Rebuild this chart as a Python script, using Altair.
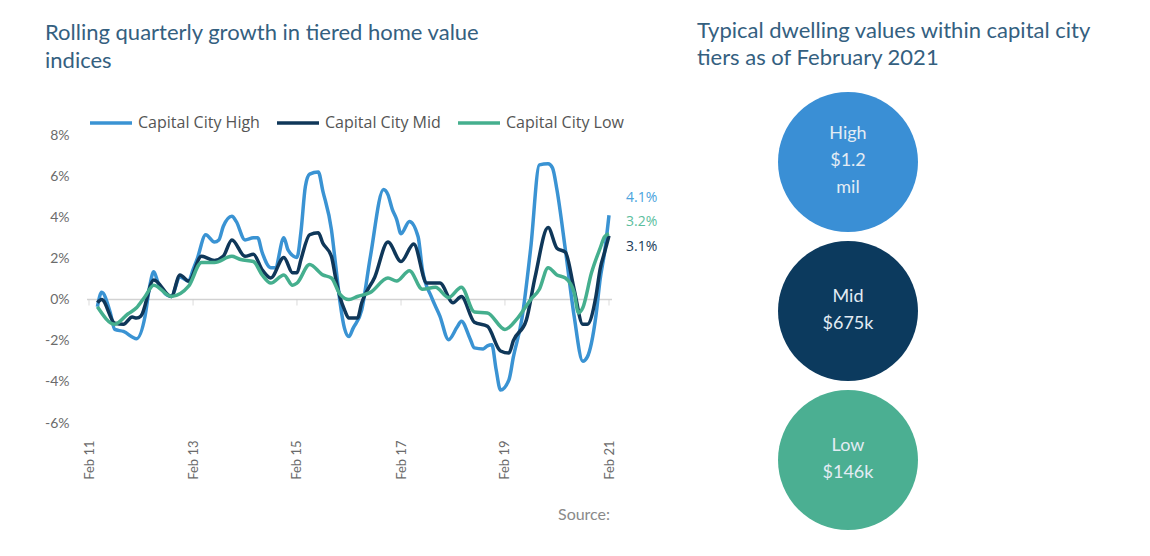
import altair as alt
import pandas as pd

# ---------------- data ----------------
high_dates = ["2011-04", "2011-05", "2011-07", "2011-08", "2011-10", "2012-01", "2012-03", "2012-04",
              "2012-05", "2012-06", "2012-09", "2012-11", "2013-01", "2013-02", "2013-03", "2013-05",
              "2013-07", "2013-08", "2013-09", "2013-11", "2013-12", "2014-02", "2014-04", "2014-05",
              "2014-06", "2014-08", "2014-09", "2014-11", "2014-12", "2015-02", "2015-03", "2015-04",
              "2015-05", "2015-07", "2015-08", "2015-10", "2015-11", "2015-12", "2016-01", "2016-02",
              "2016-03", "2016-05", "2016-07", "2016-10", "2016-11", "2016-12", "2017-01", "2017-02",
              "2017-04", "2017-06", "2017-07", "2017-09", "2017-11", "2018-01", "2018-03", "2018-04",
              "2018-06", "2018-07", "2018-09", "2018-10", "2018-11", "2018-12", "2019-01", "2019-03",
              "2019-04", "2019-06", "2019-08", "2019-10", "2019-12", "2020-01", "2020-02", "2020-04",
              "2020-06", "2020-08", "2020-09", "2020-11", "2020-12", "2021-01", "2021-02"]
high_values = [-0.35, 0.35, -0.65, -1.45, -1.55, -1.9, -0.8, 0.6,
               1.35, 0.8, 0.15, 1.1, 0.9, 1.45, 1.95, 3.15,
               2.8, 2.9, 3.55, 4.05, 3.8, 2.9, 3.0, 3.0,
               2.3, 1.55, 1.55, 3.0, 2.4, 2.05, 3.3, 5.5,
               6.1, 6.2, 5.3, 3.4, 1.6, -0.15, -1.4, -1.8,
               -1.4, -0.5, 2.1, 5.35, 5.1, 4.4, 3.9, 3.2,
               3.8, 3.05, 1.45, 0.15, -0.8, -1.95, -1.35, -1.05,
               -1.9, -2.35, -2.4, -2.25, -2.2, -3.4, -4.4, -3.9,
               -2.8, -0.9, 2.5, 6.55, 6.6, 6.4, 5.35, 2.4,
               -0.8, -3.0, -2.8, -0.8, 1.0, 2.3, 4.1]

mid_dates = ["2011-04", "2011-05", "2011-08", "2011-10", "2011-12", "2012-01", "2012-02", "2012-05",
             "2012-09", "2012-11", "2013-01", "2013-04", "2013-07", "2013-09", "2013-11", "2014-02",
             "2014-04", "2014-06", "2014-08", "2014-11", "2015-01", "2015-02", "2015-03", "2015-05",
             "2015-07", "2015-08", "2015-10", "2015-11", "2015-12", "2016-01", "2016-02", "2016-04",
             "2016-05", "2016-08", "2016-11", "2017-02", "2017-05", "2017-08", "2017-11", "2018-02",
             "2018-04", "2018-07", "2018-10", "2019-01", "2019-03", "2019-04", "2019-07", "2019-09",
             "2019-12", "2020-02", "2020-04", "2020-06", "2020-08", "2020-09", "2020-11", "2020-12",
             "2021-01", "2021-02"]
mid_values = [-0.15, 0.0, -1.15, -1.2, -0.85, -0.9, -0.8, 0.95,
              0.15, 1.2, 0.9, 2.1, 1.9, 2.1, 2.9, 2.1,
              2.2, 1.45, 1.05, 2.05, 1.3, 1.3, 1.95, 3.15,
              3.25, 2.75, 2.1, 1.0, 0.1, -0.5, -0.9, -0.9,
              -0.15, 1.1, 2.8, 1.85, 2.7, 0.8, 0.8, -0.15,
              0.15, -1.1, -1.3, -2.5, -2.6, -2.0, -1.0, 1.1,
              3.5, 2.5, 2.3, 0.5, -1.2, -1.2, 0.15, 1.5,
              2.3, 3.1]

low_dates = ["2011-04", "2011-08", "2011-11", "2012-01", "2012-03", "2012-05", "2012-09", "2013-01",
             "2013-04", "2013-07", "2013-11", "2014-01", "2014-04", "2014-06", "2014-08", "2014-11",
             "2015-01", "2015-02", "2015-05", "2015-08", "2015-10", "2015-12", "2016-02", "2016-04",
             "2016-07", "2016-11", "2017-01", "2017-04", "2017-07", "2017-10", "2018-01", "2018-04",
             "2018-07", "2018-10", "2019-02", "2019-05", "2019-08", "2019-10", "2019-12", "2020-02",
             "2020-04", "2020-06", "2020-07", "2020-08", "2020-10", "2020-12", "2021-01", "2021-02"]
low_values = [-0.35, -1.2, -0.7, -0.4, 0.15, 0.7, 0.15, 0.65,
              1.8, 1.8, 2.1, 1.95, 1.85, 1.2, 0.8, 1.2,
              0.7, 0.8, 1.7, 1.2, 1.05, 0.25, 0.0, 0.15,
              0.35, 1.05, 0.9, 1.4, 0.5, 0.6, 0.1, 0.6,
              -0.6, -0.65, -1.45, -0.9, 0.0, 0.5, 1.55, 1.2,
              1.05, 0.35, -0.65, -0.4, 1.3, 2.5, 3.05, 3.2]

series_names = ["Capital City High", "Capital City Mid", "Capital City Low"]
series_colors = ["#3A93D3", "#0F3759", "#45AF8E"]
end_label_colors = ["#4BA3DD", "#1B3B58", "#5CBE9E"]
end_label_dy = [-17, 11, -12]

tiers = ["High", "Mid", "Low"]
tier_labels = ["High\n$1.2\nmil", "Mid\n$675k", "Low\n$146k"]
tier_colors = ["#3A8FD5", "#0C3A5E", "#4BAF92"]

y_ticks = [-6, -4, -2, 0, 2, 4, 6, 8]
x_tick_years = [2011, 2013, 2015, 2017, 2019, 2021]

left_title = "Rolling quarterly growth in tiered home value\nindices"
right_title = "Typical dwelling values within capital city\ntiers as of February 2021"
source_text = "Source:"

# ---------------- tables ----------------
rows = []
for name, dates, vals in [(series_names[0], high_dates, high_values),
                          (series_names[1], mid_dates, mid_values),
                          (series_names[2], low_dates, low_values)]:
    for d, v in zip(dates, vals):
        rows.append({"series": name, "date": d + "-01", "value": v})
df = pd.DataFrame(rows)

FONT = "Lato"
TITLE_COLOR = "#34607F"
AXIS_COLOR = "#6b6b6b"
LINE_H = 27

x_enc = alt.X(
    "date:T",
    title=None,
    scale=alt.Scale(type="utc",
                    domain=[alt.DateTime(year=2011, month=2, date=1, utc=True),
                            alt.DateTime(year=2021, month=2, date=1, utc=True)]),
    axis=alt.Axis(values=[alt.DateTime(year=y, month=2, date=1, utc=True) for y in x_tick_years],
                  format="%b %y", labelAngle=270, domain=False, ticks=False, grid=False,
                  labelPadding=17, labelFontSize=13, labelColor=AXIS_COLOR, labelFont=FONT),
)
y_enc = alt.Y(
    "value:Q",
    title=None,
    scale=alt.Scale(domain=[-6, 8], nice=False, zero=False),
    axis=alt.Axis(values=y_ticks, labelExpr="datum.value + '%'", domain=False, ticks=False,
                  grid=False, labelPadding=20, labelFontSize=14, labelColor=AXIS_COLOR,
                  labelFont=FONT),
)

zero_rule = alt.Chart(pd.DataFrame({"value": [0]})).mark_rule(
    color="#d2d2d2", strokeWidth=1.5
).encode(y=y_enc, x=alt.value(-2), x2=alt.value(523))

zero_ticks = alt.Chart(pd.DataFrame({
    "date": [f"{y}-02-01" for y in x_tick_years],
    "value": [0] * len(x_tick_years),
})).mark_tick(orient="vertical", size=6, thickness=1, color="#cccccc", yOffset=3).encode(
    x=x_enc, y=y_enc)

lines = alt.Chart(df).mark_line(strokeWidth=3.5, interpolate="monotone").encode(
    x=x_enc,
    y=y_enc,
    color=alt.Color(
        "series:N",
        scale=alt.Scale(domain=series_names, range=series_colors),
        legend=alt.Legend(orient="none", legendX=-1, legendY=-35, direction="horizontal",
                          title=None, symbolType="stroke", symbolSize=1764,
                          symbolStrokeWidth=3.5, labelFontSize=16, labelColor="#555555",
                          labelFont="Open Sans", columnPadding=10, labelOffset=4),
    ),
    detail="series:N",
)

end_layers = []
for name, col, dy in zip(series_names, end_label_colors, end_label_dy):
    sub = df[df["series"] == name].tail(1).copy()
    sub["label"] = sub["value"].map(lambda v: f"{v:.1f}%")
    end_layers.append(
        alt.Chart(sub).mark_text(align="left", baseline="middle", dx=17, dy=dy, fontSize=14,
                                 font="Open Sans", color=col).encode(
            x=x_enc, y=y_enc, text="label:N")
    )

line_panel = alt.layer(zero_rule, zero_ticks, lines, *end_layers)

tier_df = pd.DataFrame({"tier": tiers, "label": tier_labels})
tier_y = alt.Y("tier:N", scale=alt.Scale(type="point", domain=tiers, range=[27, 325], padding=0),
               axis=None)
circles = alt.Chart(tier_df).mark_circle(size=19600, opacity=1).encode(
    x=alt.value(759),
    y=tier_y,
    color=alt.Color("tier:N", scale=alt.Scale(domain=tiers, range=tier_colors), legend=None),
)
circle_texts = []
for tier, lab in zip(tiers, tier_labels):
    n_lines = lab.count("\n") + 1
    circle_texts.append(
        alt.Chart(tier_df[tier_df["tier"] == tier]).mark_text(
            lineBreak="\n", lineHeight=LINE_H, fontSize=18, font=FONT, color="#e3ecf4",
            align="center", baseline="middle", dy=-(n_lines - 1) * LINE_H / 2 - 1
        ).encode(x=alt.value(759), y=tier_y, text="label:N")
    )
circle_panel = alt.layer(circles, *circle_texts)


def text_layer(txt, x, y, size, color, align="left", lh=LINE_H):
    return alt.Chart(pd.DataFrame({"t": [txt]})).mark_text(
        lineBreak="\n", lineHeight=lh, fontSize=size, font=FONT, color=color,
        align=align, baseline="alphabetic"
    ).encode(x=alt.value(x), y=alt.value(y), text="t:N")


titles = alt.layer(
    text_layer(left_title, -44, -95, 22, TITLE_COLOR, lh=28),
    text_layer(right_title, 608, -97, 22, TITLE_COLOR, lh=27),
    text_layer(source_text, 469, 385, 16, "#8a8a8a"),
)

chart = alt.layer(line_panel, circle_panel, titles).resolve_scale(
    y="independent", color="independent"
).properties(
    width=520,
    height=288,
    background="white",
    autosize=alt.AutoSizeParams(type="none"),
    padding={"left": 81, "top": 127, "right": 533, "bottom": 115},
).configure_view(strokeWidth=0, stroke=None)

chart.save("out.html", embed_options={"renderer": "svg", "actions": False})
